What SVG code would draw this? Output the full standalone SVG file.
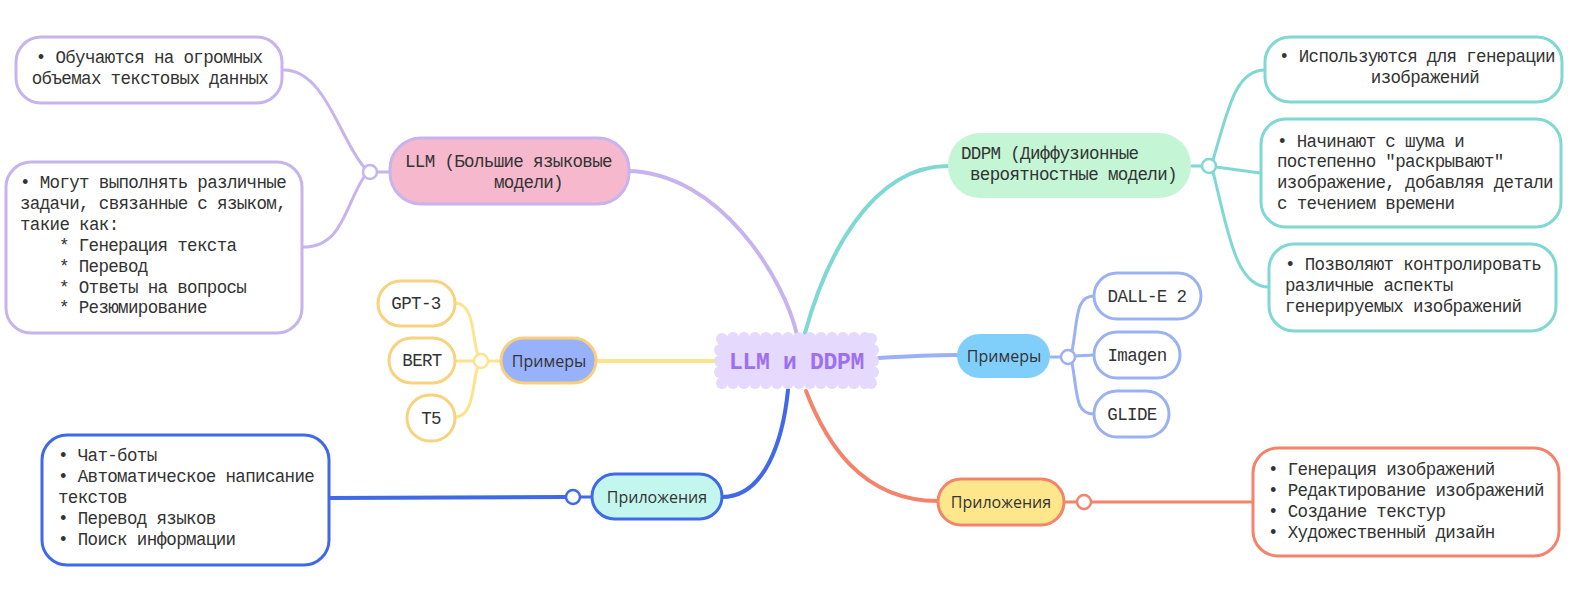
<svg xmlns="http://www.w3.org/2000/svg" width="1585" height="589" viewBox="0 0 1585 589">
<style>
.m{font-family:"Liberation Mono","DejaVu Sans Mono",monospace;font-size:17.5px;letter-spacing:-0.65px;fill:#333}
.s{font-family:"Open Sans","Liberation Sans",sans-serif;font-size:16px;fill:#333}
.c{text-anchor:middle}
.e{fill:none;stroke-linecap:round}
.e1{stroke-width:4}
.e2{stroke-width:3}
.pu{stroke:#c7b4ef}.te{stroke:#7fd8d3}.ye{stroke:#fde48c}.pw{stroke:#9bb1f6}.bl{stroke:#3f69e8}.sa{stroke:#f3846b}
.j{fill:#fff;stroke-width:2.5}
.bump{fill:#e5d9fd}
</style>
<rect width="1585" height="589" fill="#fff"/>
<g id="connectors">
<path class="e e1 pu" d="M797,335 C785,280 720,172 627,171"/>
<path class="e e1 te" d="M805,333 C825,260 870,166 948,166"/>
<path class="e e1 ye" d="M714,361 L597,361"/>
<path class="e e1 pw" d="M879,358 C910,356 930,355 957,355"/>
<path class="e e1 bl" d="M788,390 C783,440 765,497 722,497"/>
<path class="e e1 sa" d="M806,391 C825,440 860,501 938,501"/>
<path class="e e2 pu" d="M389,172 L377,172"/>
<path class="e e2 pu" d="M284,70 C325,70 340,140 364,167"/>
<path class="e e2 pu" d="M303,247 C343,247 345,205 364,177"/>
<path class="e e2 ye" d="M501,361 L488,361"/>
<path class="e e2 ye" d="M455,303 C475,303 472,340 478,355"/>
<path class="e e2 ye" d="M455,361 L474,361"/>
<path class="e e2 ye" d="M455,417 C475,417 472,380 478,367"/>
<path class="e e2 pw" d="M1051,357 L1061,357"/>
<path class="e e2 pw" d="M1072,351 C1078,320 1075,296 1094,296"/>
<path class="e e2 pw" d="M1075,356 L1094,355"/>
<path class="e e2 pw" d="M1072,363 C1078,395 1075,414 1094,414"/>
<path class="e e2 te" d="M1191,166 L1202,166"/>
<path class="e e2 te" d="M1213,160 C1228,110 1235,70 1265,70"/>
<path class="e e2 te" d="M1216,167 L1260,173"/>
<path class="e e2 te" d="M1213,172 C1228,230 1235,287 1269,287"/>
<path class="e e1 bl" d="M329,498 L566,497"/>
<path class="e e2 bl" d="M580,497 L592,497"/>
<path class="e e2 sa" d="M1064,502 L1077,502"/>
<path class="e e2 sa" d="M1091,502 L1253,502"/>
<circle class="j pu" cx="370" cy="172" r="7"/>
<circle class="j ye" cx="481" cy="361" r="7"/>
<circle class="j pw" cx="1068" cy="357" r="7"/>
<circle class="j te" cx="1209" cy="166" r="7"/>
<circle class="j bl" cx="573" cy="497" r="7"/>
<circle class="j sa" cx="1084" cy="502" r="7"/>
</g>
<g id="root">
<rect class="bump" x="719" y="338" width="155" height="46"/>
<g class="bump">
<circle cx="722" cy="339" r="6"/><circle cx="733" cy="338" r="6"/><circle cx="744" cy="338" r="6"/><circle cx="755" cy="338" r="6"/><circle cx="766" cy="338" r="6"/><circle cx="777" cy="338" r="6"/><circle cx="788" cy="338" r="6"/><circle cx="799" cy="338" r="6"/><circle cx="810" cy="338" r="6"/><circle cx="821" cy="338" r="6"/><circle cx="832" cy="338" r="6"/><circle cx="843" cy="338" r="6"/><circle cx="854" cy="338" r="6"/><circle cx="865" cy="338" r="6"/><circle cx="871" cy="339" r="6"/>
<circle cx="722" cy="383" r="6"/><circle cx="733" cy="383" r="6"/><circle cx="744" cy="383" r="6"/><circle cx="755" cy="383" r="6"/><circle cx="766" cy="383" r="6"/><circle cx="777" cy="383" r="6"/><circle cx="788" cy="383" r="6"/><circle cx="799" cy="383" r="6"/><circle cx="810" cy="383" r="6"/><circle cx="821" cy="383" r="6"/><circle cx="832" cy="383" r="6"/><circle cx="843" cy="383" r="6"/><circle cx="854" cy="383" r="6"/><circle cx="865" cy="383" r="6"/><circle cx="871" cy="383" r="6"/>
<circle cx="720" cy="350" r="6"/><circle cx="720" cy="361" r="6"/><circle cx="720" cy="372" r="6"/>
<circle cx="873" cy="350" r="6"/><circle cx="873" cy="361" r="6"/><circle cx="873" cy="372" r="6"/>
</g>
<text x="796.5" y="369" class="c" style="font-family:'Liberation Mono','DejaVu Sans Mono',monospace;font-size:23px;font-weight:bold;letter-spacing:-0.3px;fill:#9d70f0">LLM и DDPM</text>
</g>
<g id="llm">
<rect x="390" y="138" width="239" height="66" rx="31" fill="#f5b8cd" stroke="#c7b4ef" stroke-width="3"/>
<text class="m" x="405" y="167">LLM (Большие языковые</text>
<text class="m" x="494" y="188">модели)</text>
</g>
<g id="llm-a1">
<rect x="16" y="37" width="266" height="66" rx="25" fill="#fff" stroke="#c7b4ef" stroke-width="3"/>
<text class="m c" x="149" y="63">• Обучаются на огромных</text>
<text class="m c" x="150" y="84">объемах текстовых данных</text>
</g>
<g id="llm-a2">
<rect x="6" y="162" width="296" height="171" rx="25" fill="#fff" stroke="#c7b4ef" stroke-width="3"/>
<text class="m" x="20" y="188">• Могут выполнять различные</text>
<text class="m" x="20" y="209">задачи, связанные с языком,</text>
<text class="m" x="20" y="230">такие как:</text>
<text class="m" x="59" y="251">* Генерация текста</text>
<text class="m" x="59" y="272">* Перевод</text>
<text class="m" x="59" y="293">* Ответы на вопросы</text>
<text class="m" x="59" y="313">* Резюмирование</text>
</g>
<g id="ex-left">
<rect x="501" y="338" width="95" height="45" rx="22.5" fill="#97b1fa" stroke="#f9cf7e" stroke-width="3"/>
<text class="s c" x="549" y="367">Примеры</text>
</g>
<g id="gpt3">
<rect x="378" y="281" width="77" height="45" rx="22.5" fill="#fff" stroke="#f9d27f" stroke-width="3"/>
<text class="m c" x="416" y="309">GPT-3</text>
</g>
<g id="bert">
<rect x="389" y="338" width="66" height="45" rx="22.5" fill="#fff" stroke="#f9d27f" stroke-width="3"/>
<text class="m c" x="422" y="366">BERT</text>
</g>
<g id="t5">
<rect x="407" y="395" width="48" height="46" rx="23" fill="#fff" stroke="#f9d27f" stroke-width="3"/>
<text class="m c" x="431" y="424">T5</text>
</g>
<g id="app-left">
<rect x="592" y="474" width="130" height="45" rx="22.5" fill="#c3f6ef" stroke="#3f69e8" stroke-width="3"/>
<text class="s c" x="657" y="503">Приложения</text>
</g>
<g id="app-left-list">
<rect x="42" y="435" width="287" height="130" rx="25" fill="#fff" stroke="#3f69e8" stroke-width="3"/>
<text class="m" x="58" y="461">• Чат-боты</text>
<text class="m" x="58" y="482">• Автоматическое написание</text>
<text class="m" x="58" y="503">текстов</text>
<text class="m" x="58" y="524">• Перевод языков</text>
<text class="m" x="58" y="545">• Поиск информации</text>
</g>
<g id="ddpm">
<rect x="948" y="133" width="243" height="65" rx="32" fill="#c4f5d5"/>
<text class="m" x="961" y="159">DDPM (Диффузионные</text>
<text class="m" x="970" y="180">вероятностные модели)</text>
</g>
<g id="ddpm-t1">
<rect x="1265" y="37" width="297" height="65" rx="25" fill="#fff" stroke="#7fd8d3" stroke-width="3"/>
<text class="m c" x="1417" y="62">• Используются для генерации</text>
<text class="m c" x="1425" y="83">изображений</text>
</g>
<g id="ddpm-t2">
<rect x="1261" y="119" width="300" height="108" rx="25" fill="#fff" stroke="#7fd8d3" stroke-width="3"/>
<text class="m" x="1277" y="147">• Начинают с шума и</text>
<text class="m" x="1277" y="167">постепенно "раскрывают"</text>
<text class="m" x="1277" y="188">изображение, добавляя детали</text>
<text class="m" x="1277" y="209">с течением времени</text>
</g>
<g id="ddpm-t3">
<rect x="1269" y="244" width="287" height="87" rx="25" fill="#fff" stroke="#7fd8d3" stroke-width="3"/>
<text class="m" x="1285" y="270">• Позволяют контролировать</text>
<text class="m" x="1285" y="291">различные аспекты</text>
<text class="m" x="1285" y="312">генерируемых изображений</text>
</g>
<g id="ex-right">
<rect x="957" y="334" width="93" height="44" rx="22" fill="#80cffb"/>
<text class="s c" x="1004" y="362">Примеры</text>
</g>
<g id="dalle">
<rect x="1094" y="273" width="107" height="46" rx="23" fill="#fff" stroke="#9bb1f6" stroke-width="3"/>
<text class="m c" x="1147" y="302">DALL-E 2</text>
</g>
<g id="imagen">
<rect x="1094" y="332" width="86" height="46" rx="23" fill="#fff" stroke="#9bb1f6" stroke-width="3"/>
<text class="m c" x="1137" y="361">Imagen</text>
</g>
<g id="glide">
<rect x="1094" y="391" width="75" height="46" rx="23" fill="#fff" stroke="#9bb1f6" stroke-width="3"/>
<text class="m c" x="1132" y="420">GLIDE</text>
</g>
<g id="app-right">
<rect x="938" y="479" width="126" height="46" rx="23" fill="#fee68c" stroke="#f3846b" stroke-width="3"/>
<text class="s c" x="1001" y="508">Приложения</text>
</g>
<g id="app-right-list">
<rect x="1253" y="448" width="306" height="108" rx="25" fill="#fff" stroke="#f3846b" stroke-width="3"/>
<text class="m" x="1268" y="475">• Генерация изображений</text>
<text class="m" x="1268" y="496">• Редактирование изображений</text>
<text class="m" x="1268" y="517">• Создание текстур</text>
<text class="m" x="1268" y="538">• Художественный дизайн</text>
</g>
</svg>
